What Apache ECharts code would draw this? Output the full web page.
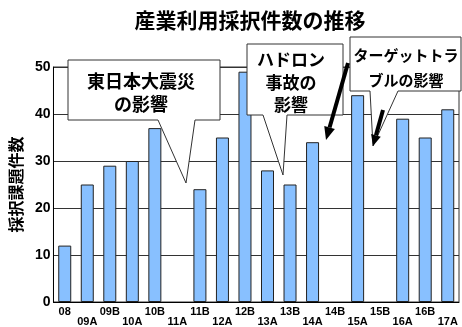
<!DOCTYPE html>
<html><head><meta charset="utf-8">
<script src="https://cdn.jsdelivr.net/npm/echarts@6.0.0/dist/echarts.min.js"></script>
<style>html,body{margin:0;padding:0;background:#fff}#c{width:462px;height:327px}</style>
</head><body><div id="c"></div>
<script>
const categories = ['08','09A','09B','10A','10B','11A','11B','12A','12B','13A','13B','14A','14B','15A','15B','16A','16B','17A'];
const counts = [12,25,29,30,37,null,24,35,49,28,25,34,null,44,null,39,35,41];
const yTicks = [0,10,20,30,40,50];
const titleText = '産業利用採択件数の推移';
const yName = '採択課題件数';
const note1 = ['東日本大震災','の影響'];
const note2 = ['ハドロン','事故の','影響'];
const note3 = ['ターゲットトラ','ブルの影響'];

const FONT = "'Liberation Sans', 'Noto Sans CJK JP', sans-serif";
const JFONT = "'Noto Sans CJK JP', sans-serif";

function arrow(x1,y1,tx,ty,head,half,w){
  const dx=tx-x1, dy=ty-y1, L=Math.hypot(dx,dy), ux=dx/L, uy=dy/L;
  const bx=tx-ux*head, by=ty-uy*head, px=-uy, py=ux;
  return [
    {type:'line', z:20, shape:{x1:x1,y1:y1,x2:bx,y2:by}, style:{stroke:'#000',lineWidth:w}},
    {type:'polygon', z:20, shape:{points:[[tx,ty],[bx+px*half,by+py*half],[bx-px*half,by-py*half]]}, style:{fill:'#000'}}
  ];
}
function lines(arr,x,y0,lh,size){
  return arr.map((t,i)=>({type:'text', z:21, style:{text:t, x:x, y:y0+i*lh, align:'center', verticalAlign:'middle', font:'bold '+size+'px '+JFONT, fill:'#000'}}));
}
const boxStyle = {fill:'#fff', stroke:'#333', lineWidth:1};

const graphics = [
  {type:'text', z:21, style:{text:titleText, x:250, y:20, align:'center', verticalAlign:'middle', font:'bold 21px '+JFONT, fill:'#000'}},
  {type:'polygon', z:10, shape:{points:[[68,60],[220,60],[220,120],[195,120],[186,183],[158,120],[68,120]]}, style:boxStyle},
  {type:'polygon', z:10, shape:{points:[[247,44],[343,44],[343,115],[287,115],[283,175],[263,115],[247,115]]}, style:boxStyle},
  {type:'polygon', z:10, shape:{points:[[350,37],[461,37],[461,91],[398,91],[373,146],[370,91],[350,91]]}, style:boxStyle},
  ...lines(note1,141,81,23.5,18),
  ...lines(note2,291,60,22.5,17),
  ...lines(note3,406,55,25,15),
  ...arrow(348,63,326,140,13,5.5,4),
  ...arrow(383,110,373,146,11,5,4)
];

const chart = echarts.init(document.getElementById('c'), null, {renderer:'canvas'});
chart.setOption({
  animation:false,
  backgroundColor:'#fff',
  grid:{left:52, right:3, top:67, bottom:24, show:true, borderColor:'#333', borderWidth:1},
  xAxis:{
    type:'category', data:categories,
    axisLine:{show:true, lineStyle:{color:'#000', width:1}},
    axisTick:{show:false},
    axisLabel:{
      interval:0, margin:4, color:'#000',
      formatter:(v,i)=> (i%2===0 ? '{a|'+v+'}' : '{b|'+v+'}'),
      rich:{
        a:{fontSize:11, fontWeight:'bold', fontFamily:FONT, color:'#000'},
        b:{fontSize:11, fontWeight:'bold', fontFamily:FONT, color:'#000', padding:[10,0,0,0]}
      }
    }
  },
  yAxis:{
    type:'value', min:yTicks[0], max:yTicks[yTicks.length-1], interval:yTicks[1]-yTicks[0],
    name:yName, nameLocation:'middle', nameGap:27,
    nameTextStyle:{fontSize:16, fontWeight:'bold', fontFamily:JFONT, color:'#000'},
    axisLine:{show:true, lineStyle:{color:'#000', width:1}},
    axisTick:{show:false},
    axisLabel:{fontSize:14, fontWeight:'bold', fontFamily:FONT, color:'#000', margin:3},
    splitLine:{show:true, lineStyle:{color:'#333', width:1}}
  },
  series:[{
    type:'bar', data:counts, barWidth:13,
    itemStyle:{color:'#88c0ff', borderColor:'#222', borderWidth:1}
  }],
  graphic:graphics
});
</script></body></html>
